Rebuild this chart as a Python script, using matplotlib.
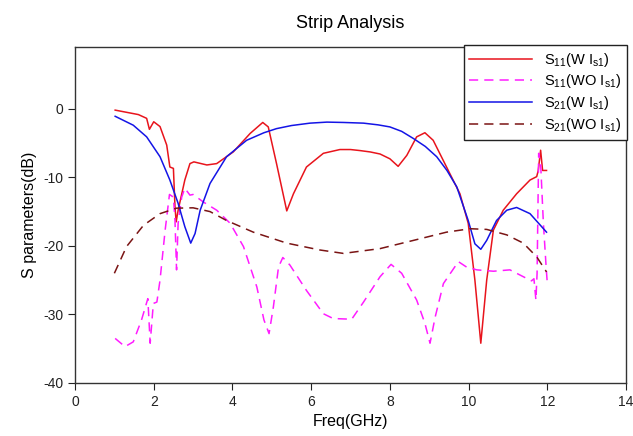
import matplotlib
matplotlib.use("Agg")
import matplotlib.pyplot as plt

plt.rcParams['font.family'] = ['Liberation Sans', 'DejaVu Sans']
plt.rcParams['mathtext.fontset'] = 'custom'
plt.rcParams['mathtext.rm'] = 'Liberation Sans'
plt.rcParams['axes.unicode_minus'] = False

# S11 with Is1
f_s11_w = [1.02, 1.61, 1.82, 1.89, 2.0, 2.16, 2.33, 2.41, 2.50, 2.54, 2.57, 2.62, 2.79, 2.92, 3.02,
           3.35, 3.60, 4.02, 4.45, 4.77, 4.91, 5.12, 5.38, 5.55, 5.88, 6.31, 6.73, 7.0, 7.24, 7.5, 7.75, 8.0, 8.21,
           8.43, 8.68, 8.89, 9.10, 9.44, 9.78, 9.99, 10.16, 10.31, 10.46, 10.63, 10.88, 11.22, 11.56,
           11.73, 11.77, 11.83, 11.88, 11.98]
s11_w = [-0.2, -0.85, -1.4, -3.0, -1.9, -2.6, -5.3, -8.5, -8.7, -14.3, -16.5, -14.8, -10.4, -8.0, -7.75,
         -8.2, -8.0, -6.3, -3.6, -2.0, -2.65, -8.0, -14.9, -12.4, -8.5, -6.5, -5.95, -5.95, -6.1, -6.3, -6.6, -7.3, -8.4,
         -6.8, -4.1, -3.5, -4.6, -8.5, -12.4, -16.7, -25.0, -34.2, -25.0, -17.7, -14.8, -12.4, -10.4,
         -9.9, -9.0, -6.05, -9.0, -9.0]

# S11 without Is1
f_s11_wo = [1.02, 1.27, 1.48, 1.69, 1.85, 1.91, 1.99, 2.08, 2.16, 2.29, 2.40, 2.50, 2.54, 2.58, 2.62,
            2.71, 2.79, 2.92, 3.0, 3.26, 3.60, 3.94, 4.28, 4.62, 4.80, 4.93, 5.04, 5.17, 5.28, 5.46,
            5.88, 6.31, 6.56, 7.03, 7.33, 7.75, 8.03, 8.30, 8.68, 8.89, 9.02, 9.15, 9.36, 9.74, 9.95,
            10.21, 10.63, 11.05, 11.39, 11.60, 11.66, 11.71, 11.74, 11.78, 11.83, 11.90, 11.97, 12.0]
s11_wo = [-33.5, -34.7, -34.0, -30.8, -27.7, -34.2, -28.4, -28.2, -25.0, -17.7, -12.5, -12.9, -16.3, -23.5, -16.7,
          -12.9, -11.6, -12.6, -12.5, -13.6, -14.8, -16.7, -20.1, -26.0, -30.8, -32.8, -28.9, -23.1, -21.7, -22.8,
          -26.5, -29.9, -30.6, -30.7, -28.2, -24.5, -22.7, -24.0, -27.9, -31.3, -34.2, -30.4, -25.5, -22.3, -23.1,
          -23.5, -23.7, -23.5, -24.5, -25.1, -24.8, -27.9, -24.0, -6.5, -8.0, -16.7, -23.1, -25.5]

# S21 with Is1
f_s21_w = [1.02, 1.48, 1.82, 2.16, 2.41, 2.62, 2.79, 2.94, 3.05, 3.18, 3.43, 3.85, 4.36, 4.8, 5.12, 5.5, 5.97,
           6.4, 6.82, 7.33, 7.7, 8.0, 8.3, 8.6, 8.9, 9.19, 9.45, 9.70, 9.99, 10.16, 10.31, 10.46, 10.71, 10.97,
           11.22, 11.56, 11.98]
s21_w = [-1.1, -2.4, -4.1, -7.0, -10.4, -13.8, -17.2, -19.6, -18.2, -14.8, -10.9, -7.0, -4.6, -3.5, -2.9, -2.45, -2.1,
         -1.95, -2.0, -2.1, -2.35, -2.65, -3.3, -4.35, -5.5, -7.0, -9.0, -11.4, -16.3, -19.7, -20.5, -19.2, -16.3, -14.8,
         -14.4, -15.3, -18.0]

# S21 without Is1
f_s21_wo = [1.0, 1.31, 1.74, 2.16, 2.58, 3.0, 3.43, 3.85, 4.53, 5.38, 6.22, 6.82, 7.75, 8.6, 9.44,
            10.04, 10.46, 10.97, 11.39, 11.73, 11.98]
s21_wo = [-24.0, -20.1, -17.0, -15.3, -14.5, -14.45, -15.0, -16.3, -18.0, -19.6, -20.6, -21.1, -20.4, -19.2, -18.0,
          -17.5, -17.6, -18.4, -19.6, -21.6, -23.8]

fig = plt.figure(figsize=(6.33, 4.36), dpi=100)
ax = fig.add_axes([0.1185, 0.1216, 0.8705, 0.7705])

dash = (0, (6, 4))
l1, = ax.plot(f_s11_w, s11_w, color='#e8141c', lw=1.1, label=r'S$_{\mathregular{11}}$(W I$_{\mathregular{s1}}$)')
l2, = ax.plot(f_s11_wo, s11_wo, color='#ff1cff', lw=1.1, ls=dash, label=r'S$_{\mathregular{11}}$(WO I$_{\mathregular{s1}}$)')
l3, = ax.plot(f_s21_w, s21_w, color='#1414e6', lw=1.1, label=r'S$_{\mathregular{21}}$(W I$_{\mathregular{s1}}$)')
l4, = ax.plot(f_s21_wo, s21_wo, color='#7a1414', lw=1.1, ls=dash, label=r'S$_{\mathregular{21}}$(WO I$_{\mathregular{s1}}$)')

ax.set_xlim(0, 14)
ax.set_ylim(-40, 9)
ax.set_xticks(range(0, 15, 2))
ax.set_yticks([0, -10, -20, -30, -40])
ax.tick_params(direction='out', length=5, labelsize=10, colors='#222222', top=False, right=False)
for s in ax.spines.values():
    s.set_color('#333333')
    s.set_linewidth(1.0)

ax.set_xlabel('Freq(GHz)', fontsize=11.5)
ax.set_ylabel('S parameters(dB)', fontsize=11.5)
ax.set_title('Strip Analysis', fontsize=13, pad=14)

leg = fig.legend(handles=[l1, l2, l3, l4], loc='upper right', bbox_to_anchor=(627/633, 1 - 45/436),
                 fontsize=10.5, frameon=True, fancybox=False, framealpha=1, edgecolor='#222222',
                 handlelength=4.3, handletextpad=0.8, borderpad=0.4, labelspacing=0.25,
                 borderaxespad=0)
leg.get_frame().set_linewidth(1.0)

fig.savefig('out.png', dpi=100)
